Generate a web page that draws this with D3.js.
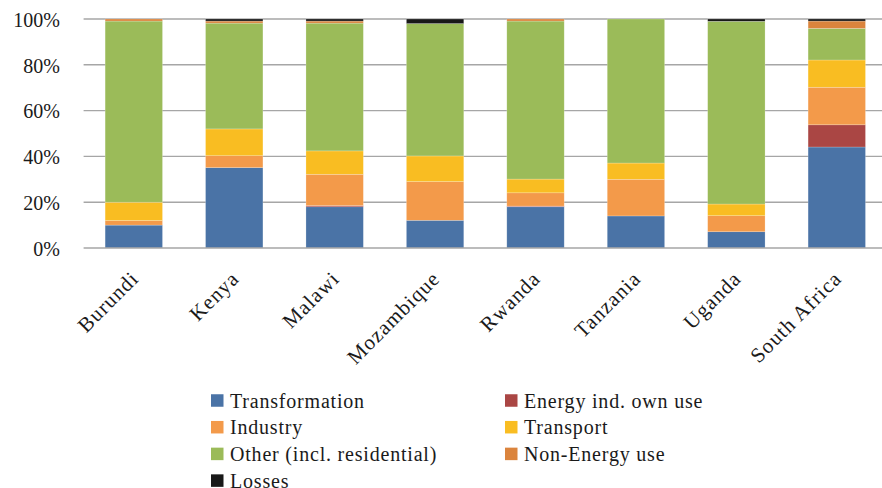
<!DOCTYPE html>
<html>
<head>
<meta charset="utf-8">
<script src="https://cdn.jsdelivr.net/npm/d3@7"></script>
<style>
  html, body { margin: 0; padding: 0; background: #fff; }
  svg { display: block; }
  text { font-family: "Liberation Serif", serif; fill: #1a1a1a; }
</style>
</head>
<body>
<svg id="chart" width="882" height="488"></svg>
<script>
// Share of final energy use by sector (%)
const countries = ["Burundi", "Kenya", "Malawi", "Mozambique", "Rwanda", "Tanzania", "Uganda", "South Africa"];
const transformation = [10.0, 35.1, 18.0, 12.1, 18.0, 14.0, 7.1, 44.1];
const energyOwnUse   = [0.0, 0.0, 0.5, 0.0, 0.3, 0.0, 0.0, 9.7];
const industry       = [2.0, 5.2, 13.7, 16.9, 5.8, 16.0, 7.0, 16.4];
const transport      = [8.0, 11.7, 10.2, 11.2, 6.0, 7.1, 5.1, 11.9];
const other          = [79.1, 46.2, 55.8, 57.8, 69.0, 62.9, 79.8, 13.8];
const nonEnergy      = [0.9, 0.9, 0.9, 0.0, 0.9, 0.0, 0.0, 3.2];
const losses         = [0.0, 0.9, 0.9, 2.0, 0.0, 0.0, 1.0, 0.9];
const yTicks = [0, 20, 40, 60, 80, 100];

const seriesNames = ["Transformation", "Energy ind. own use", "Industry", "Transport",
                     "Other (incl. residential)", "Non-Energy use", "Losses"];
const seriesColors = ["#4a73a6", "#aa4644", "#f39a4a", "#f9bd22", "#9bbb59", "#db843d", "#181818"];
const seriesValues = [transformation, energyOwnUse, industry, transport, other, nonEnergy, losses];

const rows = countries.map((c, i) => {
  const r = { country: c };
  seriesNames.forEach((s, k) => { r[s] = seriesValues[k][i]; });
  return r;
});

const svg = d3.select("#chart");
const x = d3.scaleBand().domain(countries).range([83.6, 887]).padding(0);
const y = d3.scaleLinear().domain([0, 100]).range([248, 19]);
const barW = x.bandwidth() / 1.75;

// horizontal gridlines
svg.append("g").selectAll("line").data(yTicks.filter(t => t > 0)).join("line")
  .attr("x1", 83.6).attr("x2", 882)
  .attr("y1", d => y(d)).attr("y2", d => y(d))
  .attr("stroke", "#a6a6a6").attr("stroke-width", 1.4);

// stacked bars
const stack = d3.stack().keys(seriesNames)(rows);
svg.append("g").selectAll("g").data(stack).join("g")
  .attr("fill", (d, i) => seriesColors[i])
  .selectAll("rect").data(d => d).join("rect")
  .attr("x", d => x(d.data.country) + (x.bandwidth() - barW) / 2)
  .attr("width", barW)
  .attr("y", d => y(d[1]))
  .attr("height", d => Math.max(0, y(d[0]) - y(d[1])))
  .attr("stroke", "#ffffff").attr("stroke-opacity", 0.35).attr("stroke-width", 0.6);

// baseline
svg.append("line").attr("x1", 83.6).attr("x2", 882)
  .attr("y1", y(0)).attr("y2", y(0))
  .attr("stroke", "#a6a6a6").attr("stroke-width", 1.6);

// y axis labels
const yAxis = d3.axisLeft(y).tickValues(yTicks).tickFormat(d => d + "%").tickSize(0).tickPadding(0);
const yg = svg.append("g").attr("transform", "translate(60,0)").call(yAxis);
yg.select(".domain").remove();
yg.selectAll("text").style("font-size", "20px").attr("font-family", null).attr("dy", "0.36em");

// x axis labels, rotated
const xAxis = d3.axisBottom(x).tickSize(0).tickPadding(0);
const xg = svg.append("g").attr("transform", "translate(0,280)").call(xAxis);
xg.select(".domain").remove();
xg.selectAll("text")
  .attr("font-family", null)
  .style("font-size", "21px").style("letter-spacing", "1px")
  .attr("text-anchor", "end").attr("dy", "0")
  .attr("transform", "translate(6,0) rotate(-45)");

// legend
const legendItems = [
  { k: 0, col: 0, row: 0 }, { k: 1, col: 1, row: 0 },
  { k: 2, col: 0, row: 1 }, { k: 3, col: 1, row: 1 },
  { k: 4, col: 0, row: 2 }, { k: 5, col: 1, row: 2 },
  { k: 6, col: 0, row: 3 }
];
const colX = [211, 505];
const legend = svg.append("g").selectAll("g").data(legendItems).join("g")
  .attr("transform", d => `translate(${colX[d.col]},${400.5 + d.row * 26.7})`);
legend.append("rect").attr("x", 0).attr("y", -6.25).attr("width", 12.5).attr("height", 12.5)
  .attr("fill", d => seriesColors[d.k]);
legend.append("text").attr("x", 19).attr("y", 7)
  .style("font-size", "20px").style("letter-spacing", "0.8px")
  .text(d => seriesNames[d.k]);
</script>
</body>
</html>
